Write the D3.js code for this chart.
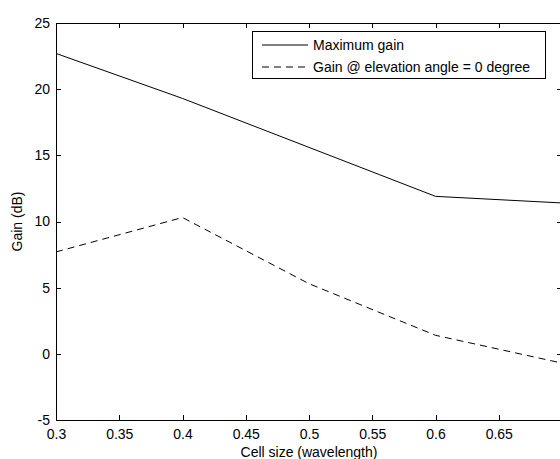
<!DOCTYPE html>
<html><head><meta charset="utf-8">
<script src="https://cdn.jsdelivr.net/npm/d3@7"></script>
<style>body{margin:0;background:#fff;overflow:hidden}svg{display:block}text{font-family:"Liberation Sans",Arial,Helvetica,sans-serif;fill:#000}</style>
</head><body>
<script>
const cellSize = [0.3, 0.4, 0.5, 0.6, 0.7];
const maxGain = [22.7, 19.3, 15.6, 11.9, 11.4];
const gainZero = [7.7, 10.3, 5.3, 1.4, -0.7];
const xTicks = [0.3, 0.35, 0.4, 0.45, 0.5, 0.55, 0.6, 0.65];
const yTicks = [-5, 0, 5, 10, 15, 20, 25];
const seriesNames = ["Maximum gain", "Gain @ elevation angle = 0 degree"];

const W = 560, H = 459;
const L = 56, T = 23, R = 562, B = 420;
const svg = d3.select("body").append("svg").attr("width", W).attr("height", H);
const x = d3.scaleLinear().domain([0.3, 0.7]).range([L, R]);
const y = d3.scaleLinear().domain([-5, 25]).range([B, T]);

// box
svg.append("rect").attr("x", L).attr("y", T).attr("width", R - L).attr("height", B - T)
  .attr("fill", "#fff").attr("stroke", "#000").attr("stroke-width", 1).attr("shape-rendering", "crispEdges");

const fmt = d => String(d);
const tk = 5;
// bottom axis
const xb = svg.append("g").attr("transform", `translate(0,${B})`)
  .call(d3.axisBottom(x).tickValues(xTicks).tickFormat(fmt).tickSizeInner(-tk).tickSizeOuter(0).tickPadding(9));
const xt = svg.append("g").attr("transform", `translate(0,${T})`)
  .call(d3.axisTop(x).tickValues(xTicks).tickFormat("").tickSizeInner(-tk).tickSizeOuter(0));
const yl = svg.append("g").attr("transform", `translate(${L},0)`)
  .call(d3.axisLeft(y).tickValues(yTicks).tickFormat(fmt).tickSizeInner(-tk).tickSizeOuter(0).tickPadding(6));
const yr = svg.append("g").attr("transform", `translate(${R},0)`)
  .call(d3.axisRight(y).tickValues(yTicks).tickFormat("").tickSizeInner(-tk).tickSizeOuter(0));
[xb, xt, yl, yr].forEach(g => {
  g.select(".domain").remove();
  g.selectAll("line").attr("stroke", "#000").attr("shape-rendering", "crispEdges");
  g.selectAll("text").attr("font-size", 14).attr("font-family", "Liberation Sans, Arial, sans-serif").attr("fill", "#000");
});

const line = d3.line().x(d => x(d[0])).y(d => y(d[1]));
svg.append("path").datum(cellSize.map((c, i) => [c, maxGain[i]]))
  .attr("d", line).attr("fill", "none").attr("stroke", "#000").attr("stroke-width", 1);
svg.append("path").datum(cellSize.map((c, i) => [c, gainZero[i]]))
  .attr("d", line).attr("fill", "none").attr("stroke", "#000").attr("stroke-width", 1).attr("stroke-dasharray", "7,5");

// legend
const lg = svg.append("g");
lg.append("rect").attr("x", 252.5).attr("y", 31.5).attr("width", 293).attr("height", 47)
  .attr("fill", "#fff").attr("stroke", "#000").attr("stroke-width", 1);
const rows = [45, 67];
seriesNames.forEach((n, i) => {
  lg.append("line").attr("x1", 262).attr("x2", 308).attr("y1", rows[i]).attr("y2", rows[i])
    .attr("stroke", "#000").attr("stroke-width", 1).attr("stroke-dasharray", i ? "7,5" : null);
  lg.append("text").attr("x", 313).attr("y", rows[i]).attr("dy", "0.35em").attr("font-size", 14).text(n);
});

// axis labels
svg.append("text").attr("x", 309).attr("y", 457).attr("text-anchor", "middle").attr("font-size", 14).text("Cell size (wavelength)");
svg.append("text").attr("transform", `translate(22,${(T + B) / 2}) rotate(-90)`).attr("text-anchor", "middle").attr("font-size", 14).text("Gain (dB)");
</script>
</body></html>
